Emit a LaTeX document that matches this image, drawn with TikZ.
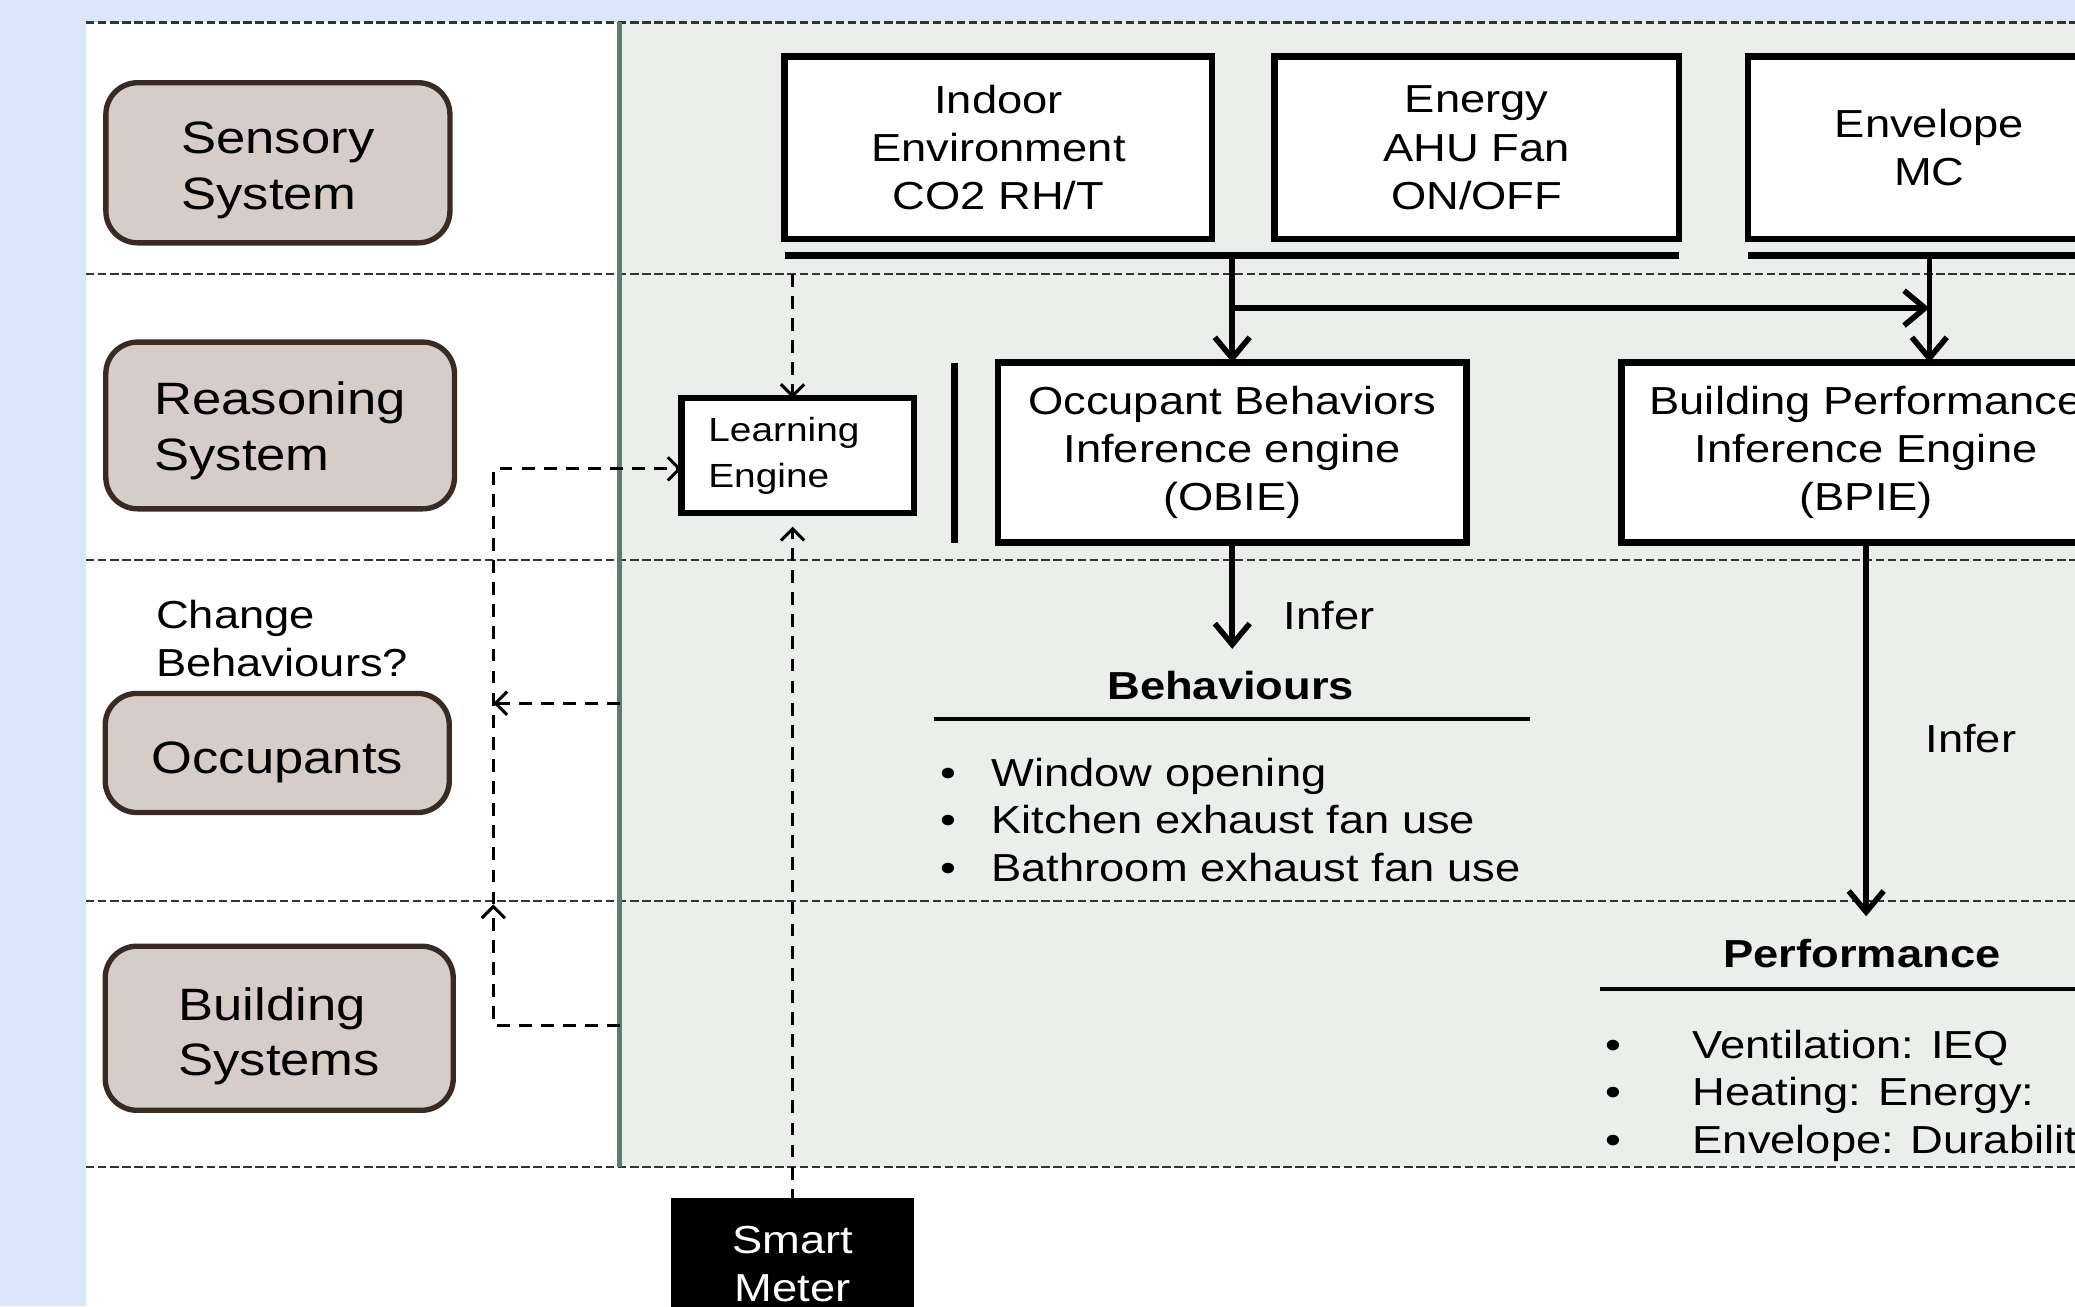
\documentclass[tikz,border=0pt]{standalone}
\usepackage{fontspec}
\setmainfont{Liberation Sans}[FakeStretch=1.16]
\usetikzlibrary{arrows.meta, positioning, calc}

\definecolor{bgblue}{HTML}{DCE6FA}
\definecolor{panel}{HTML}{EBEFEB}
\definecolor{panelline}{HTML}{5E7B6B}
\definecolor{sysfill}{HTML}{D6CDC9}
\definecolor{sysdraw}{HTML}{3A2A24}
\definecolor{rowgray}{HTML}{333333}

\begin{document}
\begin{tikzpicture}[x=0.2mm, y=-0.2mm,
  every node/.style={inner sep=0pt, outer sep=0pt},
  sz/.style 2 args={minimum width=#1*0.2mm, minimum height=#2*0.2mm},
  sysbox/.style={draw=sysdraw, fill=sysfill, line width=2.3pt, rounded corners=4.8mm},
  systxt/.style={align=left, font=\fontsize{19.5}{24}\selectfont},
  sensbox/.style={draw, fill=white, line width=2.8pt, align=center,
    font=\fontsize{16.8}{20.7}\selectfont},
  txt/.style={font=\fontsize{16.8}{20.7}\selectfont},
  headtxt/.style={font=\fontsize{16.8}{20.7}\selectfont\bfseries},
  rowline/.style={draw=rowgray, line width=1.1pt, dash pattern=on 3.6pt off 1.6pt},
  bus/.style={line width=2.8pt},
  flow/.style={line width=2.4pt, -{Straight Barb[length=9pt, width=15pt]}},
  fb/.style={line width=1.3pt, dash pattern=on 5.5pt off 4pt},
  fbarrow/.style={fb, -{Straight Barb[length=5pt, width=10pt]}},
  headrule/.style={line width=1.6pt}
]
\useasboundingbox (0,0) rectangle (1568,987);
\clip (0,0) rectangle (1568,987);

% background and lanes
\fill[bgblue] (0,0) rectangle (1568,987);
\fill[white] (65,17) rectangle (1568,987);
\fill[panel] (468,17) rectangle (1568,882);
\foreach \y in {17,207,423,681,882}
  \draw[rowline] (65,\y) -- (1568,\y);
\draw[panelline, line width=2pt] (468,17) -- (468,882);

% left column
\node[sysbox, sz={260}{121}] (sensory) at (210,123) {};
\node[systxt] (sensory-t) at ([yshift=-1.2mm]sensory.center) {Sensory\\System};
\node[sysbox, sz={263.5}{126}] (reasoning) at (211.7,321.5) {};
\node[systxt] (reasoning-t) at ([yshift=-0.8mm]reasoning.center) {Reasoning\\System};
\node[sysbox, sz={260}{90}] (occupants) at (209.5,569) {};
\node[systxt] (occupants-t) at ([yshift=-1.4mm]occupants.center) {Occupants};
\node[sysbox, sz={263}{124}] (bldg) at (211,777) {};
\node[systxt] (bldg-t) at ([yshift=-1.2mm]bldg.center) {Building\\Systems};
\node[txt, anchor=north west, align=left] (change) at (118,453.8) {Change\\Behaviours?};

% sensors
\node[sensbox, sz={323}{138}] (indoor) at (754.5,111.75) {Indoor\\Environment\\CO2 RH/T};
\node[sensbox, sz={305.7}{138}] (energy) at (1115.9,111.75) {Energy\\AHU Fan\\ON/OFF};
\node[sensbox, sz={274}{138}] (envelope) at (1457.9,111.75) {Envelope\\MC};

% engines
\node[sensbox, sz={175.5}{86.7}, align=left, text width=27mm,
  font=\fontsize{14.4}{19.8}\selectfont] (learn) at (602.75,344.15) {Learning\\Engine};
\node[sensbox, sz={354.3}{136}] (obie) at (931.15,342) {Occupant Behaviors\\Inference engine\\(OBIE)};
\node[sensbox, sz={369.6}{136}] (bpie) at (1410.2,342) {Building Performance\\Inference Engine\\(BPIE)};
\node[sensbox, fill=black, text=white, sz={178.3}{94}] (meter) at (598.9,955) {Smart\\Meter};

% outputs
\node[txt, anchor=base west] (infer1) at (970,475.7) {Infer};
\node[txt, anchor=base west] (infer2) at (1455,568.6) {Infer};
\node[headtxt, anchor=base] (behhead) at (930,528.6) {Behaviours};
\draw[headrule] (705.5,543.1) -- (1155.8,543.1);
\foreach \t [count=\i] in {Window opening, Kitchen exhaust fan use, Bathroom exhaust fan use} {
  \node[txt, anchor=base] (behdot\i) at (716.9,{558+36*\i}) {\textbullet};
  \node[txt, anchor=base west] (beh\i) at (749.2,{558+36*\i}) {\t};
}
\node[headtxt, anchor=base] (perfhead) at (1407,731.2) {Performance};
\draw[headrule] (1209,747.6) -- (1600,747.6);
\foreach \t [count=\i] in {Ventilation: IEQ, Heating: Energy:, Envelope: Durability} {
  \node[txt, anchor=base] (perfdot\i) at (1219,{763.7+36*\i}) {\textbullet};
  \node[txt, anchor=base west] (perf\i) at (1279,{763.7+36*\i}) {\t};
}

% sensor buses
\path (indoor.south west) ++(0,12.5) coordinate (bus1w);
\path (energy.south east) ++(0,12.5) coordinate (bus1e);
\path (envelope.south west) ++(0,12.5) coordinate (bus2w);
\path (envelope.south east) ++(0,12.5) coordinate (bus2e);
\draw[bus] (bus1w) -- (bus1e);
\draw[bus] (bus2w) -- (bus2e);
\draw[bus] ([xshift=-6.55mm]obie.north west) -- ([xshift=-6.55mm]obie.south west);

% solid flows
\draw[flow] (obie.north |- bus1w) -- (obie.north);
\draw[flow] (envelope.south |- bus2w) -- (envelope.south |- bpie.north);
\coordinate (split) at (obie.north |- 0,232.8);
\draw[flow] (split) -- (split -| envelope.south);
\draw[flow] (obie.south) -- ++(0,80.3);
\draw[flow] (bpie.south) -- ++(0,282.4);

% dashed feedback
\coordinate (fbtop) at (372.8,354.3);
\coordinate (fbmid) at (372.8,683.4);
\coordinate (fbbot) at (372.8,774.6);
\coordinate (bsout) at (468.5,774.6);
\coordinate (occout) at (468.5,531.4);
\draw[fbarrow] (meter.north |- 0,207) -- (meter.north |- learn.north);
\draw[fbarrow, shorten >=2.1mm] (meter.north) -- (meter.north |- learn.south);
\draw[fbarrow] (bsout) -- (fbbot) -- (fbmid);
\draw[fbarrow] (fbmid) -- (fbtop) -- (fbtop -| learn.west);
\draw[fbarrow] (occout) -- (occout -| fbtop);
\end{tikzpicture}
\end{document}
